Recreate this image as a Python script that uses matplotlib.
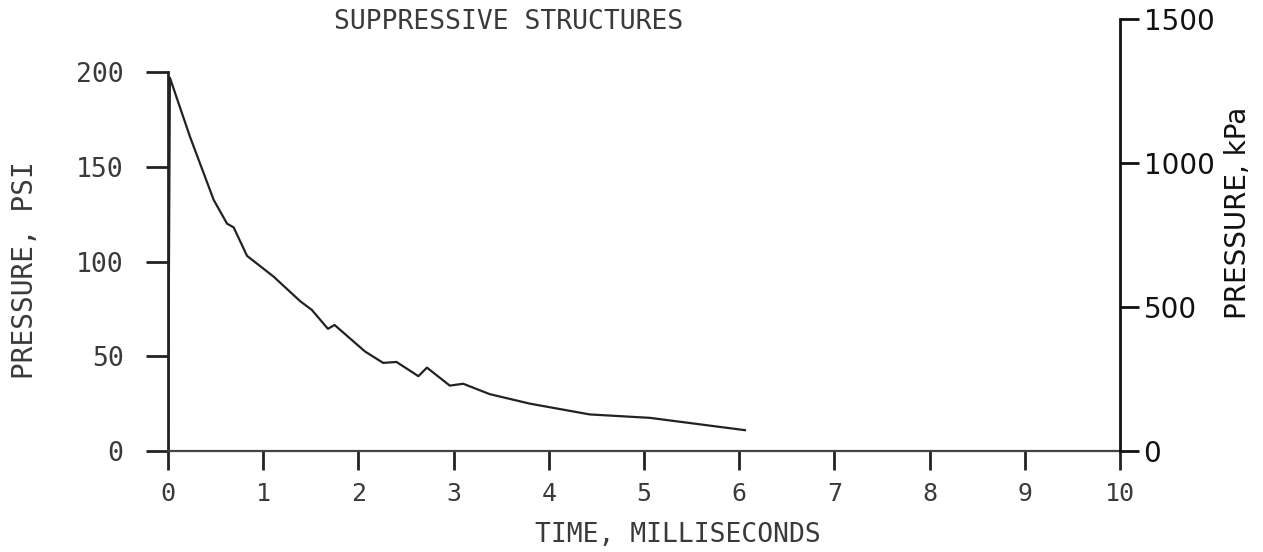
import numpy as np
import matplotlib
matplotlib.use("Agg")
import matplotlib.pyplot as plt

# pressure trace (time in ms, pressure in psi)
time_ms = [0.0, 0.02, 0.23, 0.48, 0.62, 0.69, 0.83, 1.11, 1.39, 1.51, 1.68, 1.75,
           2.07, 2.26, 2.40, 2.63, 2.72, 2.96, 3.10, 3.38, 3.80, 4.43, 5.06, 6.06]
pressure_psi = [0.0, 197.0, 166.0, 132.5, 120.0, 118.0, 103.0, 92.0, 79.0, 74.5, 64.5, 66.5,
                52.5, 46.5, 47.0, 39.5, 44.0, 34.5, 35.5, 30.0, 25.0, 19.3, 17.5, 11.0]

x_ticks = [0, 1, 2, 3, 4, 5, 6, 7, 8, 9, 10]
psi_ticks = [0, 50, 100, 150, 200]
kpa_ticks = [0, 500, 1000, 1500]

W, H = 1263, 552
ink = "#3a3a3a"
mono = ["DejaVu Sans Mono"]

fig = plt.figure(figsize=(W / 100, H / 100), dpi=100)
ax = fig.add_axes([168 / W, 1 - 451 / H, (1120 - 168) / W, 432 / H])

ax.plot(time_ms, pressure_psi, color="#222222", lw=1.6)

ax.set_xlim(0, 10)
ax.set_ylim(0, 228)
ax.set_xticks(x_ticks)
ax.set_yticks(psi_ticks)
for s in ["top", "right"]:
    ax.spines[s].set_visible(False)
ax.spines["left"].set_bounds(0, 200)
ax.spines["left"].set_linewidth(2.0)
ax.spines["bottom"].set_linewidth(1.6)
ax.spines["left"].set_color("#222222")
ax.spines["bottom"].set_color("#444444")
ax.tick_params(axis="x", direction="out", length=14, width=2, pad=8,
               colors="#222222", labelcolor=ink, labelsize=18)
ax.tick_params(axis="y", direction="out", length=16, width=2, pad=16,
               colors="#222222", labelcolor=ink, labelsize=19)
for lab in ax.get_xticklabels() + ax.get_yticklabels():
    lab.set_family(mono)

# right hand kPa scale
ax2 = ax.twinx()
ax2.set_ylim(0, 1500)
ax2.set_yticks(kpa_ticks)
for s in ["top", "left", "bottom"]:
    ax2.spines[s].set_visible(False)
ax2.spines["right"].set_linewidth(2.0)
ax2.spines["right"].set_color("#111111")
ax2.tick_params(axis="y", direction="out", length=14, width=2, pad=3,
                colors="#111111", labelsize=20)

fig.text(509 / W, 1 - 22 / H, "SUPPRESSIVE STRUCTURES", family=mono, fontsize=19,
         color=ink, ha="center", va="center")
fig.text(678 / W, 1 - 535 / H, "TIME, MILLISECONDS", family=mono, fontsize=19,
         color=ink, ha="center", va="center")
fig.text(25 / W, 1 - 270 / H, "PRESSURE, PSI", family=mono, fontsize=20,
         color=ink, ha="center", va="center", rotation=90)
fig.text(1238 / W, 1 - 213 / H, "PRESSURE, kPa", fontsize=20,
         color="#111111", ha="center", va="center", rotation=90)

fig.savefig("out.png", dpi=100)
